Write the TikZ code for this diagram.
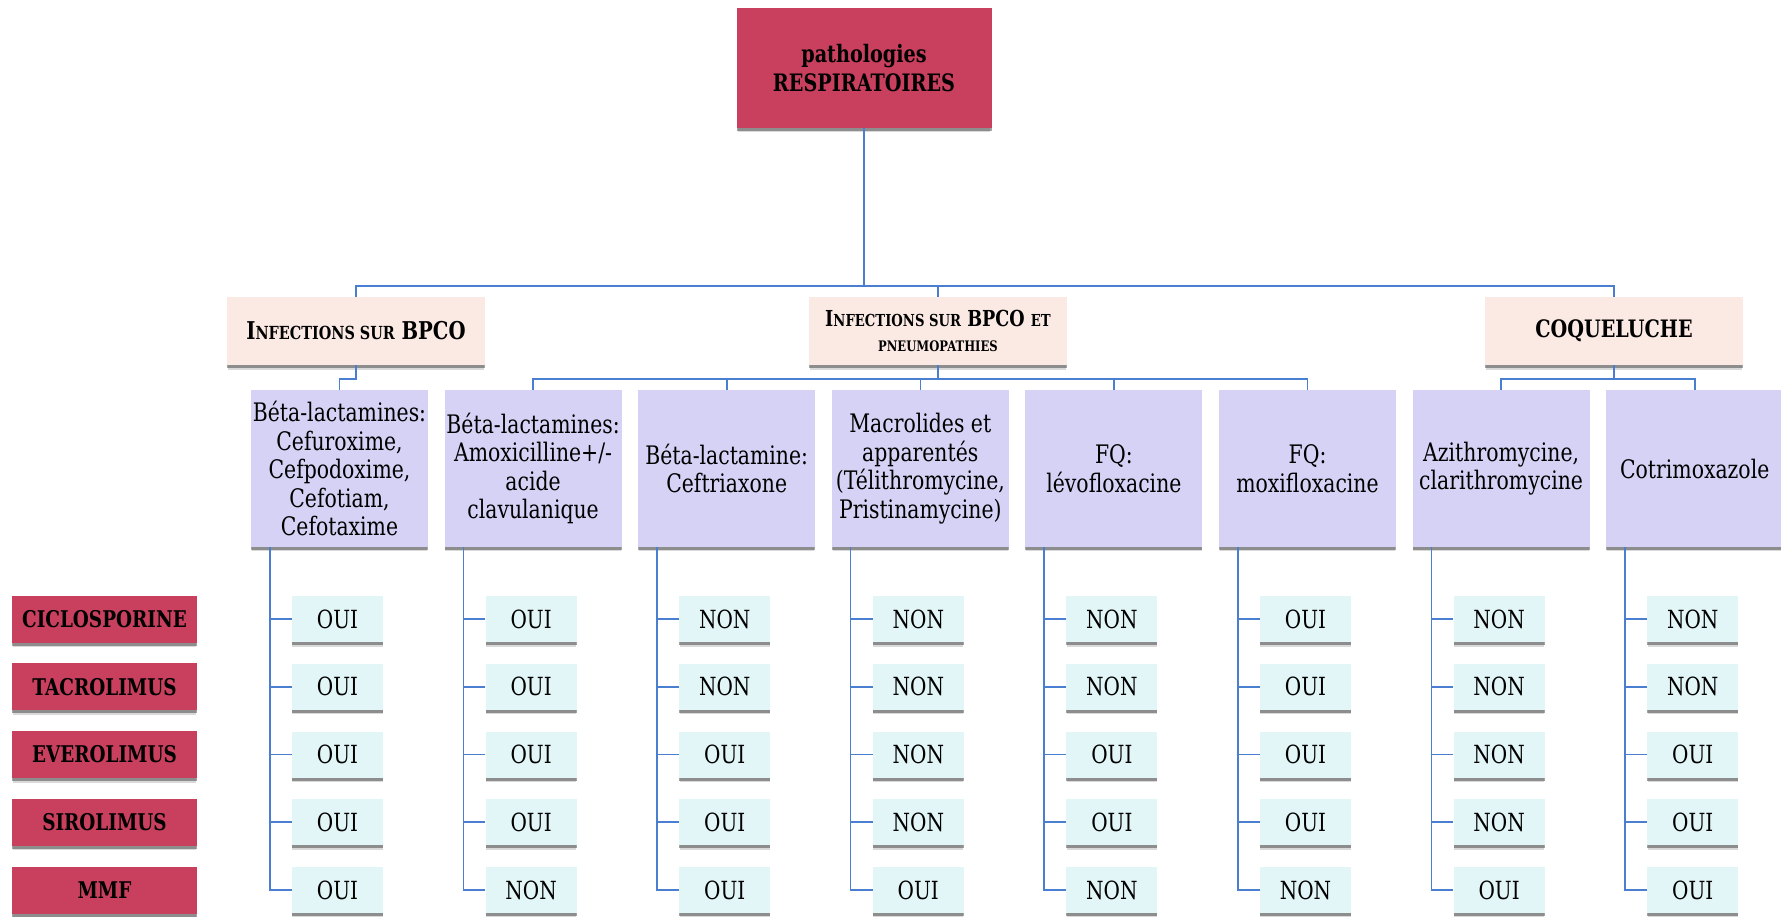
\documentclass[tikz,border=0pt]{standalone}
\usepackage{fontspec}
\setmainfont[FakeStretch=0.8]{DejaVu Serif}
\usetikzlibrary{shadows}
\definecolor{crim}{RGB}{200,64,94}
\definecolor{peach}{RGB}{251,234,228}
\definecolor{lav}{RGB}{214,210,245}
\definecolor{cyanl}{RGB}{226,246,248}
\definecolor{lineblue}{RGB}{74,126,208}
\newcommand\SmA[1]{{\fontsize{18}{20}\selectfont #1}}
\newcommand\SmB[1]{{\fontsize{16.5}{18}\selectfont #1}}
\newcommand\SmC[1]{{\fontsize{14.5}{16}\selectfont #1}}
\tikzset{
  boxbase/.style={draw=none, align=center, inner sep=0pt, text=black,
    drop shadow={shadow xshift=0pt, shadow yshift=-5pt, shadow scale=0.99, fill=black!60, opacity=0.25},
    drop shadow={shadow xshift=0pt, shadow yshift=-3pt, fill=black!80, opacity=0.45}},
  topbox/.style={boxbase, fill=crim, minimum width=255pt, minimum height=120pt,
    font=\bfseries\fontsize{24}{29}\selectfont},
  catbox/.style={boxbase, fill=peach, minimum width=258pt, minimum height=68pt},
  drugbox/.style={boxbase, fill=lav, minimum width=177pt, minimum height=157pt,
    font=\fontsize{25.5}{28.5}\selectfont},
  ansbox/.style={boxbase, fill=cyanl, minimum width=91pt, minimum height=46pt,
    font=\fontsize{25}{28}\selectfont},
  labbox/.style={boxbase, fill=crim, minimum width=185pt, minimum height=47pt,
    font=\bfseries\fontsize{23}{28}\selectfont},
  conn/.style={draw=lineblue, line width=1.6pt}
}
\begin{document}
\begin{tikzpicture}[x=1pt,y=-1pt]
\useasboundingbox (0,0) rectangle (1781,917);
\node[topbox] (top) at (864,68) {pathologies\\RESPIRATOIRES};
\node[catbox, font=\bfseries\fontsize{24.5}{28}\selectfont] (c1) at (356,331) {I\SmA{NFECTIONS SUR} BPCO};
\node[catbox, font=\bfseries\fontsize{22}{25}\selectfont] (c2) at (938,331) {I\SmB{NFECTIONS SUR} BPCO \SmB{ET}\\\SmC{PNEUMOPATHIES}};
\node[catbox, font=\bfseries\fontsize{24}{28}\selectfont] (c3) at (1614,331) {COQUELUCHE};
\coordinate (bus) at (864,286);
\coordinate (bus2) at (0,379);
\draw[conn] (top.south) -- (bus);
\draw[conn] (c1.north) |- (bus);
\draw[conn] (c3.north) |- (bus);
\draw[conn] (c2.north) -- (c2.north |- bus);
\foreach \i/\t in {1/{Béta-lactamines:\\Cefuroxime,\\Cefpodoxime,\\Cefotiam,\\Cefotaxime},
  2/{Béta-lactamines:\\Amoxicilline+/-\\acide\\clavulanique},
  3/{Béta-lactamine:\\Ceftriaxone},
  4/{Macrolides et\\apparentés\\(Télithromycine,\\Pristinamycine)},
  5/{FQ:\\lévofloxacine},
  6/{FQ:\\moxifloxacine},
  7/{Azithromycine,\\clarithromycine},
  8/{Cotrimoxazole}}{
  \pgfmathsetmacro\L{251+193.6*(\i-1)}
  \node[drugbox] (d\i) at ({\L+88.5},468.5) {\t};
}
\draw[conn] (c1.south) -- (c1.south |- bus2) -| (d1.north);
\draw[conn] (c2.south) -- (c2.south |- bus2);
\draw[conn] (d2.north) |- (d6.north |- bus2) -- (d6.north);
\foreach \i in {3,4,5} \draw[conn] (d\i.north) -- (d\i.north |- bus2);
\draw[conn] (c3.south) -- (c3.south |- bus2);
\draw[conn] (d7.north) |- (d8.north |- bus2) -- (d8.north);
\foreach \n [count=\k] in {CICLOSPORINE,TACROLIMUS,EVEROLIMUS,SIROLIMUS,MMF}
  \node[labbox] (r\k) at (104.5,{619+67.75*(\k-1)}) {\n};
\foreach \i/\ans in {1/{OUI,OUI,OUI,OUI,OUI},
  2/{OUI,OUI,OUI,OUI,NON},
  3/{NON,NON,OUI,OUI,OUI},
  4/{NON,NON,NON,NON,OUI},
  5/{NON,NON,OUI,OUI,NON},
  6/{OUI,OUI,OUI,OUI,NON},
  7/{NON,NON,NON,NON,OUI},
  8/{NON,NON,OUI,OUI,OUI}}{
  \pgfmathsetmacro\L{251+193.6*(\i-1)}
  \foreach \a [count=\k] in \ans {
    \node[ansbox] (a\i-\k) at ({\L+86.5},{619+67.75*(\k-1)}) {\a};
  }
  \coordinate (v\i) at ([xshift=19pt]d\i.south west);
  \draw[conn] (v\i) |- (a\i-5.west);
  \foreach \k in {1,2,3,4} \draw[conn] (a\i-\k.west) -- (a\i-\k.west -| v\i);
}
\end{tikzpicture}
\end{document}
